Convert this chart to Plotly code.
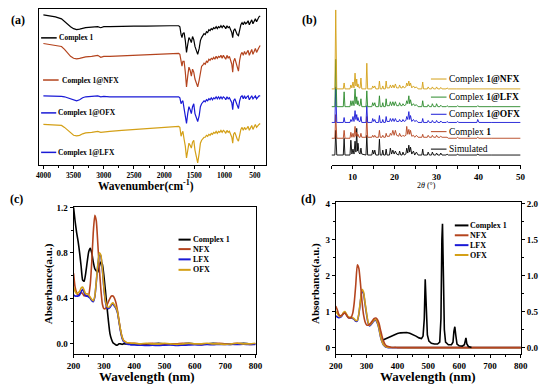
import plotly.graph_objects as go

FONT = "Liberation Serif"
W_PX, H_PX = 550, 387

C_BLACK = "#000000"
C_RED = "#B4441E"
C_BLUE = "#1A1AD6"
C_GOLD = "#D4A017"
C_GREEN = "#2B8A2B"

# ---------------- (a) FT-IR ----------------
WAVENUMBER = [4000, 3900, 3800, 3700, 3650, 3600, 3550, 3500, 3450, 3400,
              3350, 3300, 3200, 3100, 3050, 3000, 2900, 2700, 2500, 2300,
              2100, 1900, 1760, 1740, 1720, 1705, 1690, 1670, 1650, 1630,
              1610, 1590, 1570, 1550, 1530, 1510, 1490, 1470, 1445, 1420,
              1400, 1380, 1360, 1340, 1320, 1300, 1280, 1260, 1240, 1220,
              1200, 1180, 1160, 1140, 1120, 1100, 1080, 1060, 1040, 1020,
              1000, 980, 960, 940, 920, 900, 880, 865, 850, 830,
              810, 790, 770, 750, 730, 710, 690, 670, 650, 630,
              610, 590, 570, 550, 530, 510, 490, 470, 450, 430,
              410]
IR_COMPLEX1 = [152, 151, 150, 148, 145, 142, 140, 138, 137, 137.5,
               138.5, 139, 139.5, 140, 139, 140, 140, 140.5, 140.5, 140.5,
               141, 141, 141, 140, 132, 129, 133, 134, 126, 114,
               122, 129, 127, 124, 130, 127, 120, 116, 112, 118,
               126, 129, 131, 133, 132, 135, 134, 137, 136, 138,
               137, 139, 138, 140, 138, 140, 139, 141, 139, 141,
               140, 138, 141, 139, 140, 137, 134, 129, 136, 138,
               135, 132, 131, 138, 142, 144, 142, 145, 143, 144,
               146, 142, 145, 147, 143, 146, 148, 145, 148, 150,
               151]
IR_NFX = [123, 122, 121, 120, 117, 113, 110, 108, 107.5, 108,
          109, 109.5, 110, 111, 109, 110, 110, 110.5, 111, 111.5,
          112, 113, 113, 112, 104, 100, 105, 105, 94, 79,
          90, 99, 96, 90, 97, 94, 87, 83, 79, 86,
          96, 100, 101, 103, 102, 105, 104, 107, 106, 108,
          107, 109, 107, 110, 108, 110, 109, 111, 108, 111,
          109, 107, 111, 108, 110, 106, 102, 94, 105, 108,
          103, 98, 95, 106, 112, 114, 111, 115, 112, 114,
          116, 111, 115, 117, 112, 116, 118, 114, 117, 119,
          121]
IR_OFX = [70, 70, 70, 69.5, 69, 68, 66.5, 65.5, 65, 66,
          68, 69, 69.5, 70, 69, 69.5, 69, 69, 69, 69,
          69, 69, 69, 68, 62, 64, 65, 57, 49, 42,
          52, 59, 56, 52, 59, 62, 52, 49, 44, 50,
          59, 62, 64, 65, 64, 66, 65, 67, 66, 68,
          66, 68, 67, 69, 67, 69, 67, 69, 67, 69,
          68, 66, 69, 67, 68, 66, 63, 56, 65, 67,
          64, 60, 57, 65, 69, 70, 67, 70, 67, 69,
          70, 66, 69, 70, 67, 69, 70, 67, 69, 70,
          70]
IR_LFX = [41, 40.5, 40, 40, 38, 35, 32, 30, 29.5, 30,
          31.5, 32.5, 33, 34, 33, 33.5, 34, 35, 36, 37,
          38, 39, 39, 38, 29, 32, 34, 26, 19, 7,
          16, 22, 20, 17, 23, 25, 15, 10, 2, 12,
          22, 25, 27, 28, 28, 30, 29, 31, 30, 32,
          31, 33, 32, 34, 32, 34, 33, 35, 33, 35,
          34, 32, 35, 33, 34, 31, 28, 22, 31, 33,
          29, 26, 24, 32, 36, 38, 35, 38, 36, 37,
          39, 35, 38, 40, 36, 39, 41, 38, 40, 41,
          42]

# ---------------- (b) PXRD ----------------
TWO_THETA = [5.0, 5.8, 6.0, 6.25, 7.8, 8.0, 8.2, 9.4, 9.6, 9.85,
             10.1, 10.35, 10.6, 10.8, 11.0, 11.15, 11.3, 11.55, 11.8, 12.0,
             12.2, 13.2, 13.4, 13.6, 14.6, 14.8, 15.05, 15.3, 15.55, 16.2,
             16.4, 16.6, 17.0, 17.2, 17.4, 17.8, 18.0, 18.2, 18.8, 19.0,
             19.3, 19.6, 19.9, 20.2, 20.5, 21.0, 21.2, 21.5, 21.8, 22.0,
             22.3, 22.7, 22.9, 23.15, 23.4, 23.6, 23.8, 24.1, 24.5, 24.8,
             25.2, 25.6, 26.5, 26.7, 26.9, 27.8, 28.0, 28.3, 28.8, 29.0,
             29.3, 29.8, 30.0, 30.3, 30.8, 31.0, 31.3, 32.3, 32.5, 32.8,
             34.8, 35.0, 35.3, 37.0, 39.6, 39.8, 40.1, 43.0, 46.0, 50.0]
XRD_SIMULATED = [0, 0, 25, 0, 0, 17, 0, 0, 15, 1,
                 6, 1, 14, 3, 27, 4, 12, 2, 1, 7,
                 1, 0, 20, 0, 0, 5, 1, 5, 0, 0,
                 16, 0, 0, 5, 0, 0, 6, 0, 0, 7,
                 1, 5, 1, 4, 1, 0, 4, 0, 0, 3,
                 0, 1, 7, 2, 10, 3, 8, 1, 4, 0,
                 3, 0, 0, 6, 0, 0, 3, 0, 0, 3,
                 0, 0, 2, 0, 0, 2, 0, 0, 1, 0,
                 0, 1, 0, 0, 0, 1, 0, 0, 0, 0]
XRD_COMPLEX1 = [0, 0, 24, 0, 0, 8, 0, 0, 6, 1,
                5, 1, 12, 2, 6, 2, 4, 1, 1, 5,
                1, 1, 22, 1, 1, 3, 1, 3, 1, 1,
                8, 1, 1, 3, 1, 1, 5, 2, 2, 5,
                3, 8, 3, 8, 3, 2, 5, 2, 2, 3,
                2, 3, 12, 4, 9, 4, 8, 2, 3, 1,
                3, 1, 1, 4, 1, 1, 3, 1, 1, 3,
                1, 1, 3, 1, 1, 2, 1, 1, 1, 0,
                0, 1, 0, 0, 0, 1, 0, 0, 0, 0]
XRD_OFX = [0, 0, 36, 0, 0, 5, 0, 0, 3, 1,
           6, 1, 12, 3, 8, 2, 5, 1, 1, 6,
           0, 0, 17, 0, 0, 4, 1, 3, 0, 0,
           7, 0, 0, 3, 0, 0, 6, 1, 1, 4,
           1, 4, 1, 4, 1, 1, 3, 1, 1, 3,
           1, 2, 6, 3, 11, 3, 7, 1, 3, 1,
           2, 0, 0, 4, 0, 0, 2, 0, 0, 2,
           0, 0, 2, 0, 0, 1.5, 0, 0, 1, 0,
           0, 1, 0, 0, 0, 3, 0, 0, 0, 0]
XRD_LFX = [0, 0, 48, 0, 0, 15, 0, 0, 6, 1,
           6, 1, 18, 3, 10, 2, 6, 1, 1, 8,
           0, 0, 16, 0, 0, 4, 1, 4, 0, 0,
           11, 0, 0, 4, 0, 0, 8, 1, 1, 5,
           1, 5, 1, 5, 1, 1, 4, 1, 1, 3,
           1, 2, 6, 3, 11, 3, 7, 1, 3, 1,
           2, 0, 0, 6, 0, 0, 2, 0, 0, 3,
           0, 0, 3, 0, 0, 1.5, 0, 0, 1, 0,
           0, 1, 0, 0, 0, 1, 0, 0, 0, 0]
XRD_NFX = [0, 0, 80, 0, 0, 6, 0, 0, 4, 1,
           7, 1, 16, 3, 10, 2, 5, 1, 1, 11,
           0, 0, 26, 0, 0, 3, 1, 3, 0, 0,
           8, 0, 0, 3, 0, 0, 8, 1, 1, 4,
           1, 4, 1, 5, 1, 1, 4, 1, 1, 3,
           1, 2, 6, 3, 8, 3, 6, 1, 3, 1,
           2, 0, 0, 7, 0, 0, 2, 0, 0, 2,
           0, 0, 2, 0, 0, 1.5, 0, 0, 1, 0,
           0, 0, 0, 0, 0, 0, 0, 0, 0, 0]
XRD_OFFSETS = [10, 27, 43, 59, 77]

# ---------------- (c) / (d) UV-vis ----------------
WAVELENGTH = [200, 205, 210, 215, 220, 225, 230, 235, 240, 245,
              250, 255, 260, 265, 270, 275, 280, 285, 290, 295,
              300, 305, 310, 315, 320, 325, 330, 335, 340, 345,
              350, 355, 360, 365, 370, 375, 380, 385, 390, 395,
              400,
              420, 440, 460, 480, 500, 520, 540, 560, 580, 600,
              620, 640, 660, 680, 700, 720, 740, 760, 780, 800]

UVC_COMPLEX1 = [1.20, 1.08, 0.98, 0.90, 0.80, 0.68, 0.56, 0.55, 0.62, 0.72,
                0.81, 0.84, 0.80, 0.72, 0.66, 0.64, 0.63, 0.68, 0.72, 0.70,
                0.60, 0.47, 0.33, 0.20, 0.09, 0.04, 0.01, 0.00, -0.01, -0.01,
                0.00, 0.00, -0.005, 0.00, 0.00, 0.00, 0.005, 0.00, 0.00, 0.00,
                0.00,
                0.0, -0.005, 0.0, 0.005, 0.0, -0.005, 0.0, 0.0, 0.005, 0.0,
                -0.005, 0.0, 0.005, 0.0, 0.0, -0.005, 0.0, 0.005, 0.0, 0.0]
UVC_NFX = [0.62, 0.50, 0.45, 0.43, 0.44, 0.45, 0.44, 0.42, 0.43, 0.42,
           0.43, 0.52, 0.72, 0.98, 1.13, 1.08, 0.88, 0.66, 0.48, 0.35,
           0.31, 0.31, 0.34, 0.37, 0.40, 0.42, 0.42, 0.40, 0.36, 0.29,
           0.20, 0.12, 0.06, 0.03, 0.02, 0.01, 0.01, 0.005, 0.005, 0.005,
           0.005,
           0.0, 0.0, 0.005, 0.0, -0.005, 0.0, 0.0, 0.005, 0.0, 0.0,
           -0.005, 0.0, 0.0, 0.005, 0.0, 0.0, 0.005, 0.0, -0.005, 0.0]
UVC_LFX = [0.43, 0.42, 0.42, 0.42, 0.43, 0.46, 0.48, 0.45, 0.42, 0.42,
           0.41, 0.40, 0.38, 0.37, 0.41, 0.54, 0.69, 0.79, 0.77, 0.65,
           0.49, 0.37, 0.32, 0.31, 0.32, 0.34, 0.35, 0.33, 0.31, 0.27,
           0.19, 0.11, 0.05, 0.02, 0.01, 0.0, -0.005, -0.005, -0.01, -0.01,
           -0.01,
           -0.012, -0.015, -0.012, -0.015, -0.012, -0.01, -0.015, -0.012, -0.01, -0.008,
           -0.01, -0.006, -0.008, -0.005, -0.006, -0.004, -0.005, -0.004, -0.006, -0.005]
UVC_OFX = [0.50, 0.46, 0.44, 0.45, 0.46, 0.49, 0.50, 0.47, 0.44, 0.44,
           0.43, 0.41, 0.39, 0.38, 0.42, 0.55, 0.70, 0.80, 0.78, 0.66,
           0.50, 0.38, 0.33, 0.32, 0.33, 0.35, 0.36, 0.34, 0.32, 0.28,
           0.20, 0.12, 0.06, 0.03, 0.02, 0.01, 0.01, 0.01, 0.005, 0.005,
           0.005,
           0.0, 0.005, 0.0, 0.0, 0.005, 0.0, -0.005, 0.0, 0.005, 0.0,
           0.0, 0.005, 0.0, 0.0, -0.005, 0.0, 0.005, 0.0, 0.0, 0.005]

UVD_NFX = [1.15, 1.05, 0.92, 0.88, 0.90, 0.94, 0.96, 0.90, 0.84, 0.82,
           0.84, 0.95, 1.25, 1.75, 2.30, 2.20, 1.80, 1.30, 0.92, 0.72,
           0.63, 0.62, 0.65, 0.70, 0.76, 0.81, 0.82, 0.78, 0.68, 0.50,
           0.32, 0.18, 0.09, 0.05, 0.03, 0.02, 0.01, 0.005, 0.005, 0.005,
           0.0,
           0.0, 0.0, 0.0, 0.0, 0.0, 0.0, 0.0, 0.0, 0.0, 0.0,
           0.0, 0.0, 0.0, 0.0, 0.0, 0.0, 0.0, 0.0, 0.0, 0.0]
UVD_LFX = [0.88, 0.85, 0.83, 0.84, 0.88, 0.95, 0.98, 0.91, 0.84, 0.82,
           0.82, 0.81, 0.78, 0.73, 0.74, 0.93, 1.27, 1.58, 1.51, 1.22,
           0.92, 0.68, 0.60, 0.64, 0.70, 0.75, 0.76, 0.68, 0.53, 0.31,
           0.16, 0.07, 0.03, 0.01, 0.0, 0.0, 0.0, 0.0, 0.0, 0.0,
           0.0,
           0.0, 0.0, 0.0, 0.0, 0.0, 0.0, 0.0, 0.0, 0.0, 0.0,
           0.0, 0.0, 0.0, 0.0, 0.0, 0.0, 0.0, 0.0, 0.0, 0.0]
UVD_OFX = [1.00, 0.95, 0.88, 0.86, 0.90, 0.97, 1.00, 0.93, 0.86, 0.84,
           0.84, 0.83, 0.80, 0.75, 0.76, 0.95, 1.30, 1.62, 1.55, 1.25,
           0.95, 0.70, 0.62, 0.66, 0.72, 0.77, 0.78, 0.70, 0.55, 0.32,
           0.17, 0.08, 0.04, 0.02, 0.01, 0.005, 0.005, 0.005, 0.005, 0.005,
           0.005,
           0.0, 0.0, 0.0, 0.0, 0.0, 0.0, 0.0, 0.0, 0.0, 0.0,
           0.0, 0.0, 0.0, 0.0, 0.0, 0.0, 0.0, 0.0, 0.0, 0.0]
# Complex 1 in (d) read against the right-hand axis (0 - 2.0)
UVD_C1_WL = [355, 360, 370, 380, 390, 400, 410, 420, 430, 440,
             450, 460, 470, 478, 483, 487, 490, 493, 497, 502,
             510, 520, 530, 537, 541, 544, 546, 549, 552, 556,
             565, 575, 580, 583, 586, 589, 593, 600, 610, 617,
             620, 622, 625, 630, 640]
UVD_C1 = [0.11, 0.12, 0.14, 0.16, 0.18, 0.195, 0.205, 0.21, 0.21, 0.20,
          0.185, 0.16, 0.135, 0.125, 0.16, 0.4, 0.95, 0.55, 0.175, 0.09,
          0.06, 0.05, 0.05, 0.075, 0.4, 1.5, 1.72, 1.0, 0.25, 0.075,
          0.04, 0.04, 0.075, 0.225, 0.29, 0.175, 0.05, 0.025, 0.02, 0.04,
          0.11, 0.135, 0.05, 0.015, 0.0]

for arr in (IR_COMPLEX1, IR_NFX, IR_OFX, IR_LFX):
    assert len(arr) == len(WAVENUMBER)
for arr in (XRD_SIMULATED, XRD_COMPLEX1, XRD_OFX, XRD_LFX, XRD_NFX):
    assert len(arr) == len(TWO_THETA)
for arr in (UVC_COMPLEX1, UVC_NFX, UVC_LFX, UVC_OFX, UVD_NFX, UVD_LFX, UVD_OFX):
    assert len(arr) == len(WAVELENGTH)
assert len(UVD_C1) == len(UVD_C1_WL)


def px(x, y):
    return x / W_PX, 1 - y / H_PX


fig = go.Figure()

# (a)
for vals, col in [(IR_COMPLEX1, C_BLACK), (IR_NFX, C_RED), (IR_OFX, C_BLUE), (IR_LFX, C_GOLD)]:
    fig.add_trace(go.Scatter(x=WAVENUMBER, y=vals, mode="lines", xaxis="x", yaxis="y",
                             line=dict(color=col, width=1.2), showlegend=False, hoverinfo="skip"))
# (b)
for vals, off, col in [(XRD_SIMULATED, XRD_OFFSETS[0], C_BLACK), (XRD_COMPLEX1, XRD_OFFSETS[1], C_RED),
                       (XRD_OFX, XRD_OFFSETS[2], C_BLUE), (XRD_LFX, XRD_OFFSETS[3], C_GREEN),
                       (XRD_NFX, XRD_OFFSETS[4], C_GOLD)]:
    fig.add_trace(go.Scatter(x=TWO_THETA, y=[v + off for v in vals], mode="lines", xaxis="x2", yaxis="y2",
                             line=dict(color=col, width=0.9), showlegend=False, hoverinfo="skip"))
# (c)
for vals, col in [(UVC_COMPLEX1, C_BLACK), (UVC_NFX, C_RED), (UVC_LFX, C_BLUE), (UVC_OFX, C_GOLD)]:
    fig.add_trace(go.Scatter(x=WAVELENGTH, y=vals, mode="lines", xaxis="x3", yaxis="y3",
                             line=dict(color=col, width=1.6, shape="spline", smoothing=0.5),
                             showlegend=False, hoverinfo="skip"))
# (d)
for vals, col in [(UVD_LFX, C_BLUE), (UVD_OFX, C_GOLD), (UVD_NFX, C_RED)]:
    fig.add_trace(go.Scatter(x=WAVELENGTH, y=vals, mode="lines", xaxis="x4", yaxis="y4",
                             line=dict(color=col, width=1.6, shape="spline", smoothing=0.5),
                             showlegend=False, hoverinfo="skip"))
fig.add_trace(go.Scatter(x=UVD_C1_WL, y=UVD_C1, mode="lines", xaxis="x4", yaxis="y5",
                         line=dict(color=C_BLACK, width=1.6), showlegend=False, hoverinfo="skip"))

TF = dict(family=FONT, size=9, color="black", weight="bold")
common = dict(showgrid=False, zeroline=False, linecolor="black", linewidth=1,
              ticks="outside", ticklen=3, tickwidth=1, tickcolor="black")

fig.update_layout(
    width=W_PX, height=H_PX, margin=dict(l=0, r=0, t=0, b=0),
    paper_bgcolor="white", plot_bgcolor="white", showlegend=False,
    xaxis=dict(domain=[33 / W_PX, 266 / W_PX], anchor="y", range=[4070, 310],
               showline=True, mirror=True, dtick=500, tick0=0,
               minor=dict(dtick=250, ticks="outside", ticklen=2, tickcolor="black"),
               tickfont=dict(family=FONT, size=7.5, color="black", weight="bold"), **common),
    yaxis=dict(domain=[1 - 162 / H_PX, 1 - 4 / H_PX], anchor="x", range=[0, 158],
               showline=True, mirror=True, showgrid=False, zeroline=False,
               linecolor="black", linewidth=1, ticks="", showticklabels=False),
    xaxis2=dict(domain=[333 / W_PX, 527 / W_PX], anchor="y2", range=[5, 50],
                showline=True, mirror=False, tickvals=[10, 20, 30, 40, 50],
                minor=dict(dtick=5, tick0=0, ticks="outside", ticklen=3, tickcolor="black"),
                tickfont=dict(family=FONT, size=9, color="black", weight="bold"), **common),
    yaxis2=dict(domain=[1 - 162 / H_PX, 1 - 4 / H_PX], anchor="x2", range=[0, 158], visible=False),
    xaxis3=dict(domain=[68.3 / W_PX, 255 / W_PX], anchor="y3", range=[200, 800],
                showline=True, mirror=True, dtick=100,
                minor=dict(dtick=50, ticks="outside", ticklen=2, tickcolor="black"),
                tickfont=TF, **common),
    yaxis3=dict(domain=[1 - 353.3 / H_PX, 1 - 205 / H_PX], anchor="x3", range=[-0.087, 1.2],
                showline=True, mirror=True, tickvals=[0, 0.4, 0.8, 1.2],
                ticktext=["0.0", "0.4", "0.8", "1.2"],
                minor=dict(dtick=0.2, ticks="outside", ticklen=2, tickcolor="black"),
                tickfont=TF, **common),
    xaxis4=dict(domain=[337.3 / W_PX, 527.3 / W_PX], anchor="y4", range=[200, 800],
                showline=True, mirror=True, dtick=100,
                minor=dict(dtick=50, ticks="outside", ticklen=2, tickcolor="black"),
                tickfont=TF, **common),
    yaxis4=dict(domain=[1 - 353.3 / H_PX, 1 - 200 / H_PX], anchor="x4", range=[-0.17, 4.03],
                showline=True, dtick=1,
                minor=dict(dtick=0.5, ticks="outside", ticklen=2, tickcolor="black"),
                tickfont=TF, **common),
    yaxis5=dict(overlaying="y4", anchor="x4", side="right", range=[-0.085, 2.015],
                showline=True, dtick=0.5, tickformat=".1f",
                minor=dict(dtick=0.25, ticks="outside", ticklen=2, tickcolor="black"),
                tickfont=TF, **common),
)

annotations = []
shapes = []


def label(x, y, text, size, bold=True, xanchor="left", textangle=0, color="black"):
    ax, ay = px(x, y)
    annotations.append(dict(x=ax, y=ay, xref="paper", yref="paper", text=text, showarrow=False,
                            xanchor=xanchor, yanchor="middle", textangle=textangle, borderpad=0,
                            font=dict(family=FONT, size=size, color=color,
                                      weight="bold" if bold else "normal")))


def seg(x0, x1, y, color, width):
    a0, b0 = px(x0, y)
    a1, _ = px(x1, y)
    shapes.append(dict(type="line", xref="paper", yref="paper", x0=a0, x1=a1, y0=b0, y1=b0,
                       line=dict(color=color, width=width)))


# panel letters
label(3, 15, "(a)", 12)
label(302, 15, "(b)", 12)
label(2, 197, "(c)", 12)
label(301, 197, "(d)", 12)

# axis titles
label(142.5, 183, "Wavenumber(cm<sup>-1</sup>)", 11.5, xanchor="center")
label(430, 183, "2<i>θ</i> (°)", 8, bold=False, xanchor="center")
label(42, 282, "Absorbance(a.u.)", 11, xanchor="center", textangle=-90)
label(144, 376, "Wavelength (nm)", 13, xanchor="center")
label(316.7, 282, "Absorbance(a.u.)", 11, xanchor="center", textangle=-90)
label(432, 376, "Wavelength (nm)", 13, xanchor="center")

# (a) legend
for (x0, x1, y, tx, col, txt) in [(35, 51, 33.3, 52.5, C_BLACK, "Complex 1"),
                                  (37, 53, 76, 55, C_RED, "Complex 1@NFX"),
                                  (35, 50.5, 109.3, 51.5, C_BLUE, "Complex 1@OFX"),
                                  (35, 50.5, 149.3, 51.5, C_BLUE, "Complex 1@LFX")]:
    seg(x0, x1, y, col, 1.5)
    label(tx, y, txt, 7.5)

# (b) legend
for (y, col, txt) in [(75, C_GOLD, "Complex <b>1@NFX</b>"), (93.3, C_GREEN, "Complex <b>1@LFX</b>"),
                      (110.7, C_BLUE, "Complex <b>1@OFX</b>"), (128.3, C_RED, "Complex <b>1</b>"),
                      (146, C_BLACK, "Simulated")]:
    seg(435, 451, y, col, 1)
    label(453, y, txt, 9.5, bold=False)

# (c) legend
for (y, col, txt) in [(237.7, C_BLACK, "Complex 1"), (247.3, C_RED, "NFX"),
                      (257.7, C_BLUE, "LFX"), (268.3, C_GOLD, "OFX")]:
    seg(176, 188.5, y, col, 2)
    label(189.5, y, txt, 8)

# (d) legend
for (y, col, txt) in [(223.3, C_BLACK, "Complex 1"), (233.3, C_RED, "NFX"),
                      (243.3, C_BLUE, "LFX"), (253.3, C_GOLD, "OFX")]:
    seg(459.5, 473.5, y, col, 2)
    label(474.5, y, txt, 8)

fig.update_layout(annotations=annotations, shapes=shapes)
fig.write_html("out.html", config={"displayModeBar": False},
               post_script="document.body.style.margin='0px';")
